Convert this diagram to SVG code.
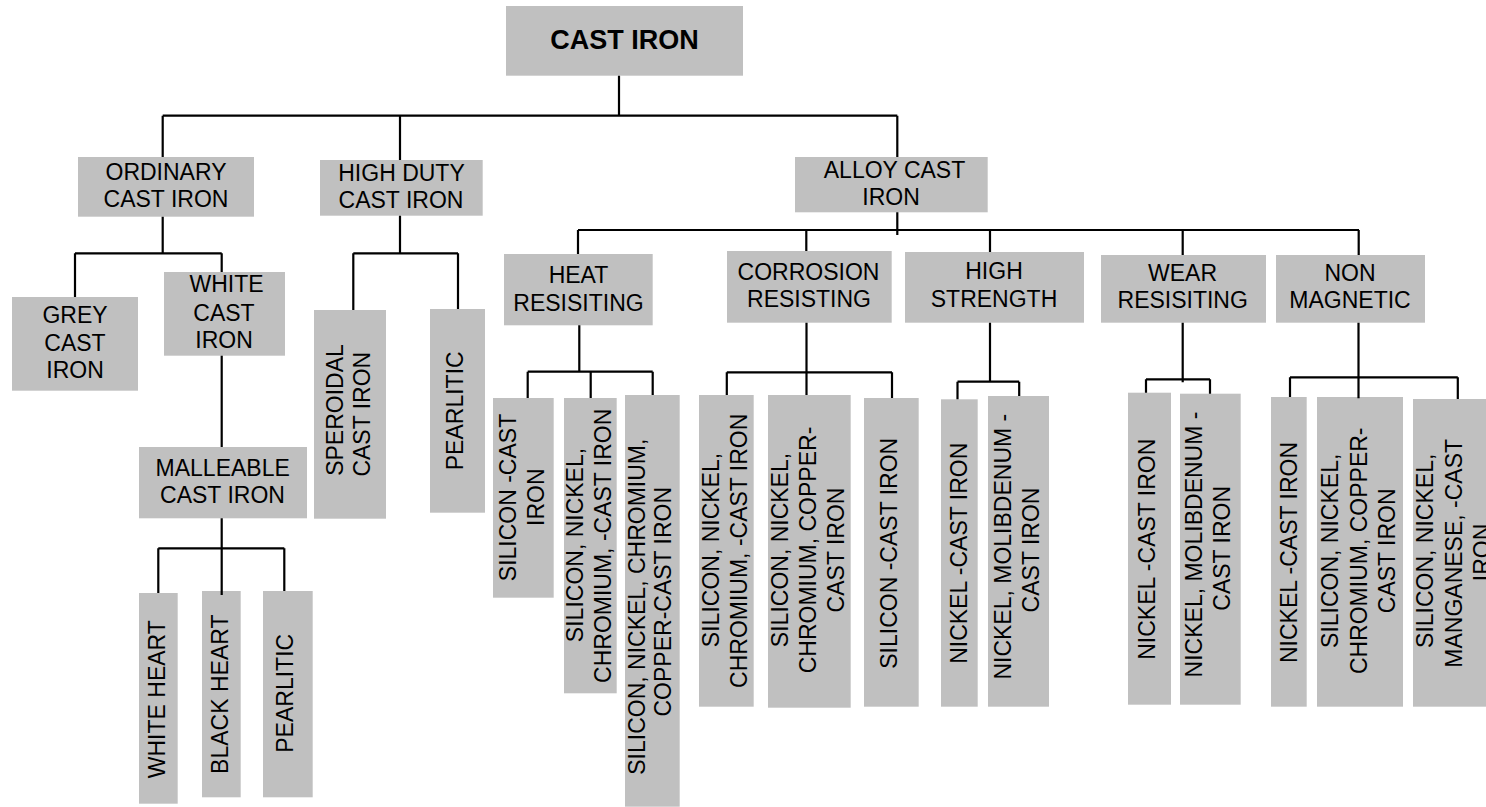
<svg xmlns="http://www.w3.org/2000/svg" width="1486" height="807" viewBox="0 0 1486 807">
<style>
.box{fill:#C0C0C0}
.t{font-family:'Liberation Sans',Arial,sans-serif;font-size:23px;fill:#000;text-anchor:middle}
.b{font-weight:bold;font-size:27px}
.conn path{stroke:#000;stroke-width:2.2;fill:none}
</style>
<rect width="1486" height="807" fill="#fff"/>
<g id="nodes">
<g id="cast-iron"><rect class="box" x="506" y="6" width="237" height="69.7"/><text class="t b" x="624.5" y="49">CAST IRON</text></g>
<g id="ordinary"><rect class="box" x="78" y="157" width="176" height="59.7"/><text class="t"><tspan x="166" y="180">ORDINARY</tspan><tspan x="166" y="206.7">CAST IRON</tspan></text></g>
<g id="high-duty"><rect class="box" x="320" y="160" width="162.7" height="55.7"/><text class="t"><tspan x="401.5" y="181">HIGH DUTY</tspan><tspan x="401" y="208.3">CAST IRON</tspan></text></g>
<g id="alloy"><rect class="box" x="795" y="157" width="192.7" height="55.3"/><text class="t"><tspan x="894.5" y="178.3">ALLOY CAST</tspan><tspan x="891" y="205">IRON</tspan></text></g>
<g id="grey"><rect class="box" x="12" y="297" width="126" height="93.7"/><text class="t"><tspan x="75" y="322.7">GREY</tspan><tspan x="75" y="350.7">CAST</tspan><tspan x="75" y="378.3">IRON</tspan></text></g>
<g id="white"><rect class="box" x="164" y="272" width="121" height="83.7"/><text class="t"><tspan x="226.5" y="292.3">WHITE</tspan><tspan x="224" y="320.7">CAST</tspan><tspan x="224" y="348.3">IRON</tspan></text></g>
<g id="malleable"><rect class="box" x="139" y="447" width="168" height="71.3"/><text class="t"><tspan x="222.7" y="476">MALLEABLE</tspan><tspan x="222.5" y="502.7">CAST IRON</tspan></text></g>
<g id="speroidal"><rect class="box" x="314" y="310" width="72" height="208.7"/><text class="t" transform="rotate(-90)"><tspan x="-410" y="343.2">SPEROIDAL</tspan><tspan x="-414.2" y="369.8">CAST IRON</tspan></text></g>
<g id="pearlitic-hd"><rect class="box" x="430" y="309" width="55" height="203.7"/><text class="t" transform="rotate(-90)"><tspan x="-410.8" y="463.2">PEARLITIC</tspan></text></g>
<g id="white-heart"><rect class="box" x="139" y="593" width="38.7" height="210.7"/><text class="t" transform="rotate(-90)"><tspan x="-699.2" y="164.8">WHITE HEART</tspan></text></g>
<g id="black-heart"><rect class="box" x="202" y="591" width="38.7" height="206.3"/><text class="t" transform="rotate(-90)"><tspan x="-694.2" y="228.2">BLACK HEART</tspan></text></g>
<g id="pearlitic-m"><rect class="box" x="263" y="591" width="49.7" height="206.3"/><text class="t" transform="rotate(-90)"><tspan x="-693.3" y="293.2">PEARLITIC</tspan></text></g>
<g id="heat"><rect class="box" x="504" y="254" width="148.7" height="71.3"/><text class="t"><tspan x="578.5" y="283.3">HEAT</tspan><tspan x="578.5" y="310.7">RESISITING</tspan></text></g>
<g id="corrosion"><rect class="box" x="727" y="251" width="164.7" height="71.7"/><text class="t"><tspan x="808.5" y="280">CORROSION</tspan><tspan x="809" y="307.3">RESISTING</tspan></text></g>
<g id="high-strength"><rect class="box" x="905" y="252" width="179" height="70.7"/><text class="t"><tspan x="994" y="279.3">HIGH</tspan><tspan x="994" y="307.3">STRENGTH</tspan></text></g>
<g id="wear"><rect class="box" x="1101" y="255" width="165" height="67.7"/><text class="t"><tspan x="1182.5" y="280.7">WEAR</tspan><tspan x="1182.7" y="308">RESISITING</tspan></text></g>
<g id="non-magnetic"><rect class="box" x="1276" y="255" width="149" height="67.7"/><text class="t"><tspan x="1350" y="280.7">NON</tspan><tspan x="1350" y="308">MAGNETIC</tspan></text></g>
<g id="heat-1"><rect class="box" x="493" y="398" width="60.7" height="199.7"/><text class="t" transform="rotate(-90)"><tspan x="-497.5" y="516.2">SILICON -CAST</tspan><tspan x="-497.2" y="543.8">IRON</tspan></text></g>
<g id="heat-2"><rect class="box" x="564" y="398" width="52.7" height="295.3"/><text class="t" transform="rotate(-90)"><tspan x="-545" y="582.8">SILICON, NICKEL,</tspan><tspan x="-545.8" y="610.5">CHROMIUM, -CAST IRON</tspan></text></g>
<g id="heat-3"><rect class="box" x="625" y="395" width="54.7" height="411.7"/><text class="t" transform="rotate(-90)"><tspan x="-606.7" y="644.5">SILICON, NICKEL, CHROMIUM,</tspan><tspan x="-601.7" y="671.2">COPPER-CAST IRON</tspan></text></g>
<g id="corr-1"><rect class="box" x="699" y="395" width="54.7" height="311.7"/><text class="t" transform="rotate(-90)"><tspan x="-550" y="718.8">SILICON, NICKEL,</tspan><tspan x="-550.8" y="747.2">CHROMIUM, -CAST IRON</tspan></text></g>
<g id="corr-2"><rect class="box" x="768" y="395" width="82.7" height="312.7"/><text class="t" transform="rotate(-90)"><tspan x="-550" y="787.8">SILICON, NICKEL,</tspan><tspan x="-550" y="815.5">CHROMIUM, COPPER-</tspan><tspan x="-550" y="843.8">CAST IRON</tspan></text></g>
<g id="corr-3"><rect class="box" x="864" y="398" width="54.7" height="308.7"/><text class="t" transform="rotate(-90)"><tspan x="-553.3" y="897.2">SILICON -CAST IRON</tspan></text></g>
<g id="hs-1"><rect class="box" x="941" y="399.3" width="36.7" height="307.4"/><text class="t" transform="rotate(-90)"><tspan x="-553.3" y="966.5">NICKEL -CAST IRON</tspan></text></g>
<g id="hs-2"><rect class="box" x="988" y="396" width="61" height="310.7"/><text class="t" transform="rotate(-90)"><tspan x="-546.7" y="1010.8">NICKEL, MOLIBDENUM -</tspan><tspan x="-550" y="1038.8">CAST IRON</tspan></text></g>
<g id="wear-1"><rect class="box" x="1128" y="392.7" width="43" height="312"/><text class="t" transform="rotate(-90)"><tspan x="-549.2" y="1154.8">NICKEL -CAST IRON</tspan></text></g>
<g id="wear-2"><rect class="box" x="1180" y="393.7" width="60.7" height="311"/><text class="t" transform="rotate(-90)"><tspan x="-544.5" y="1202.2">NICKEL, MOLIBDENUM -</tspan><tspan x="-548.3" y="1229.8">CAST IRON</tspan></text></g>
<g id="nm-1"><rect class="box" x="1271" y="397" width="35.7" height="309.7"/><text class="t" transform="rotate(-90)"><tspan x="-552.5" y="1296.5">NICKEL -CAST IRON</tspan></text></g>
<g id="nm-2"><rect class="box" x="1317" y="397" width="86" height="309.7"/><text class="t" transform="rotate(-90)"><tspan x="-550.8" y="1338.2">SILICON, NICKEL,</tspan><tspan x="-550.8" y="1366.5">CHROMIUM, COPPER-</tspan><tspan x="-550.8" y="1394.8">CAST IRON</tspan></text></g>
<g id="nm-3"><rect class="box" x="1413" y="399" width="80" height="307.7"/><text class="t" transform="rotate(-90)"><tspan x="-550.8" y="1433.2">SILICON, NICKEL,</tspan><tspan x="-553.3" y="1461.5">MANGANESE, -CAST</tspan><tspan x="-552.5" y="1489.5">IRON</tspan></text></g>
</g>
<g id="connectors" class="conn">
<path d="M619 75.7V115.7M162.7 115.7H897.3M162.7 115.7V157M400 115.7V160M897.3 115.7V157"/>
<path d="M162.7 216.7V253.3M75 253.3H221.7M75 253.3V297M221.7 253.3V272"/>
<path d="M400 215.7V253.3M353.3 253.3H458M353.3 253.3V310M458 253.3V309"/>
<path d="M221.7 355.7V447"/>
<path d="M221.7 518.3V595M158.3 548.3H284.3M158.3 548.3V593M284.3 548.3V591"/>
<path d="M897.3 212.3V235M578 230H1359M578 230V254M806.3 230V251M990 230V252M1182.7 230V255M1358.7 230V255"/>
<path d="M579.3 325.3V371.7M527.7 371.7H652.7M527.7 371.7V398M590.7 371.7V398M652.7 371.7V395"/>
<path d="M806.5 322.7V395M726.8 372.3H892M726.8 372.3V395M892 372.3V398"/>
<path d="M990 322.7V381.7M957.5 381.7H1019.2M957.5 381.7V399.3M1019.2 381.7V396"/>
<path d="M1182.7 322.7V382.3M1146 379.3H1210M1146 379.3V392.7M1210 379.3V393.7"/>
<path d="M1358.5 322.7V398.3M1290 377.3H1457.8M1290 377.3V397M1457.8 377.3V399"/>
</g>
</svg>
